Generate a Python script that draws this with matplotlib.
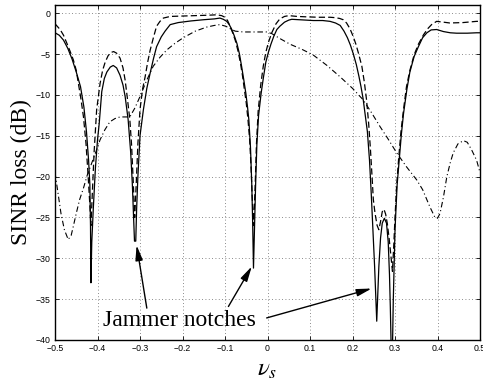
#!/usr/bin/env python3
"""
SINR loss vs normalized spatial frequency, with jammer notches marked
"""

import matplotlib
matplotlib.use('Agg')
import matplotlib.pyplot as plt

# solid curve
solid_x = [-0.500, -0.490, -0.480, -0.470, -0.460, -0.450, -0.440, -0.432, -0.426, -0.421,
           -0.418, -0.4165, -0.4155, -0.4135, -0.410, -0.405, -0.400, -0.396, -0.390, -0.384,
           -0.378, -0.370, -0.363, -0.355, -0.347, -0.340, -0.335, -0.328, -0.322, -0.318,
           -0.315, -0.313, -0.310, -0.308, -0.305, -0.300, -0.292, -0.284, -0.276, -0.268,
           -0.261, -0.250, -0.241, -0.229, -0.210, -0.180, -0.150, -0.125, -0.112, -0.104,
           -0.096, -0.090, -0.084, -0.078, -0.072, -0.066, -0.061, -0.056, -0.051, -0.047,
           -0.044, -0.040, -0.037, -0.035, -0.033, -0.031, -0.028, -0.025, -0.021, -0.015,
           -0.010, -0.004, 0.002, 0.008, 0.015, 0.022, 0.029, 0.040, 0.050, 0.057,
           0.075, 0.090, 0.108, 0.130, 0.147, 0.160, 0.171, 0.180, 0.188, 0.195,
           0.202, 0.209, 0.215, 0.220, 0.225, 0.230, 0.235, 0.240, 0.244, 0.248,
           0.252, 0.255, 0.257, 0.259, 0.262, 0.266, 0.270, 0.275, 0.280, 0.284,
           0.287, 0.289, 0.291, 0.2925, 0.294, 0.296, 0.300, 0.305, 0.310, 0.315,
           0.320, 0.328, 0.335, 0.345, 0.355, 0.365, 0.375, 0.385, 0.398, 0.414,
           0.430, 0.445, 0.470, 0.492, 0.500]
solid_y = [-2.4, -2.7, -3.3, -4.3, -5.6, -7.2, -9.0, -11.5, -14.5, -18.0,
           -21.0, -26.0, -33.0, -28.0, -24.0, -19.0, -15.5, -13.5, -9.6, -8.0,
           -7.2, -6.6, -6.4, -6.7, -7.6, -8.8, -10.2, -13.0, -17.0, -21.0,
           -25.0, -27.9, -27.9, -24.0, -20.0, -15.0, -11.8, -9.2, -7.3, -5.5,
           -4.1, -2.9, -2.2, -1.4, -1.15, -0.95, -0.8, -0.7, -0.6, -0.75,
           -1.0, -1.4, -2.0, -2.8, -3.7, -5.0, -6.5, -8.1, -9.8, -11.5,
           -13.0, -16.5, -21.0, -25.5, -31.2, -27.0, -21.0, -16.0, -12.5, -9.8,
           -8.0, -6.0, -4.8, -3.8, -2.8, -2.0, -1.6, -1.1, -0.85, -0.75,
           -0.8, -0.85, -0.9, -0.9, -1.0, -1.2, -1.5, -2.2, -3.0, -3.9,
           -5.0, -6.3, -7.7, -9.0, -10.5, -12.5, -14.5, -18.0, -22.0, -26.5,
           -31.0, -35.0, -37.7, -35.0, -31.0, -27.5, -25.7, -25.1, -25.7, -28.0,
           -32.0, -36.0, -41.0, -48.0, -41.0, -35.0, -26.5, -21.0, -17.9, -14.8,
           -12.3, -9.3, -7.2, -5.3, -4.1, -3.0, -2.4, -2.05, -2.0, -2.25,
           -2.4, -2.45, -2.45, -2.4, -2.4]

# dashed curve
dashed_x = [-0.500, -0.488, -0.480, -0.472, -0.465, -0.457, -0.450, -0.445, -0.439, -0.433,
            -0.427, -0.422, -0.418, -0.4155, -0.413, -0.408, -0.402, -0.394, -0.388, -0.382,
            -0.375, -0.368, -0.362, -0.355, -0.347, -0.340, -0.335, -0.330, -0.324, -0.320,
            -0.316, -0.3125, -0.309, -0.305, -0.300, -0.294, -0.288, -0.282, -0.276, -0.268,
            -0.261, -0.253, -0.245, -0.229, -0.200, -0.170, -0.140, -0.120, -0.108, -0.100,
            -0.094, -0.088, -0.082, -0.076, -0.070, -0.064, -0.059, -0.054, -0.050, -0.046,
            -0.042, -0.039, -0.036, -0.0325, -0.029, -0.026, -0.022, -0.016, -0.010, -0.004,
            0.002, 0.010, 0.020, 0.029, 0.040, 0.050, 0.070, 0.092, 0.120, 0.147,
            0.160, 0.170, 0.178, 0.186, 0.194, 0.202, 0.208, 0.214, 0.222, 0.228,
            0.233, 0.238, 0.242, 0.246, 0.249, 0.253, 0.258, 0.262, 0.266, 0.270,
            0.274, 0.278, 0.282, 0.286, 0.290, 0.294, 0.297, 0.300, 0.304, 0.309,
            0.314, 0.320, 0.327, 0.335, 0.345, 0.355, 0.367, 0.377, 0.386, 0.398,
            0.414, 0.429, 0.460, 0.492, 0.500]
dashed_y = [-1.3, -2.0, -2.7, -3.7, -4.6, -5.7, -7.0, -8.6, -10.5, -12.7,
            -16.0, -20.0, -23.5, -26.0, -23.0, -17.0, -11.8, -8.6, -7.0, -6.0,
            -5.2, -4.8, -4.7, -4.9, -5.5, -6.7, -8.2, -10.3, -13.0, -16.0,
            -20.5, -25.0, -21.0, -16.0, -11.8, -9.3, -7.8, -6.0, -4.5, -2.9,
            -1.6, -1.0, -0.6, -0.4, -0.35, -0.3, -0.25, -0.2, -0.3, -0.5,
            -0.9, -1.6, -2.4, -3.3, -4.5, -6.0, -7.6, -9.5, -11.0, -13.0,
            -15.5, -18.5, -22.5, -26.0, -21.0, -16.0, -12.0, -8.8, -6.5, -4.8,
            -3.6, -2.4, -1.3, -0.7, -0.4, -0.3, -0.4, -0.45, -0.5, -0.5,
            -0.55, -0.65, -0.8, -1.2, -1.9, -2.9, -3.8, -4.9, -6.5, -8.5,
            -10.6, -13.5, -16.5, -20.0, -22.8, -24.5, -26.0, -26.5, -25.5, -24.3,
            -24.0, -24.6, -25.8, -27.5, -29.5, -31.6, -28.5, -25.0, -21.0, -17.5,
            -14.5, -11.8, -9.0, -7.0, -5.1, -3.8, -2.65, -1.9, -1.4, -1.0,
            -1.1, -1.2, -1.15, -1.0, -1.0]

# dash-dot curve
dashdot_x = [-0.500, -0.493, -0.486, -0.478, -0.469, -0.462, -0.457, -0.450, -0.442, -0.433,
             -0.424, -0.414, -0.404, -0.394, -0.383, -0.371, -0.359, -0.347, -0.335, -0.324,
             -0.312, -0.300, -0.285, -0.269, -0.253, -0.237, -0.218, -0.198, -0.170, -0.143,
             -0.125, -0.112, -0.098, -0.088, -0.076, -0.057, -0.041, -0.020, -0.002, 0.010,
             0.029, 0.053, 0.080, 0.107, 0.140, 0.171, 0.200, 0.225, 0.245, 0.265,
             0.285, 0.304, 0.327, 0.351, 0.365, 0.382, 0.394, 0.400, 0.406, 0.414,
             0.422, 0.430, 0.437, 0.448, 0.461, 0.470, 0.480, 0.492, 0.500]
dashdot_y = [-19.5, -22.0, -24.5, -26.5, -27.7, -27.2, -26.1, -24.5, -22.8, -21.4,
             -19.8, -18.4, -17.0, -15.5, -14.3, -13.3, -12.9, -12.7, -12.7, -12.7,
             -11.6, -10.2, -8.3, -6.5, -5.4, -4.5, -3.7, -3.0, -2.2, -1.7,
             -1.5, -1.4, -1.6, -1.9, -2.2, -2.3, -2.3, -2.3, -2.3, -2.5,
             -3.1, -3.8, -4.4, -5.1, -6.4, -7.8, -9.2, -10.6, -12.2, -13.9,
             -15.5, -17.1, -18.8, -20.4, -21.6, -23.7, -25.0, -25.1, -24.5, -22.5,
             -20.0, -18.3, -17.1, -16.0, -15.6, -15.8, -16.7, -18.0, -19.5]

# ticks
x_ticks = [-0.5, -0.4, -0.3, -0.2, -0.1, 0.0, 0.1, 0.2, 0.3, 0.4, 0.5]
x_tick_labels = ['\u22120.5', '\u22120.4', '\u22120.3', '\u22120.2', '\u22120.1', '0',
                 '0.1', '0.2', '0.3', '0.4', '0.5']
y_ticks = [-40, -35, -30, -25, -20, -15, -10, -5, 0]
y_tick_labels = ['\u221240', '\u221235', '\u221230', '\u221225', '\u221220', '\u221215',
                 '\u221210', '\u22125', '0']

# annotation: text anchor and arrows (tail -> tip)
note_text = 'Jammer notches'
note_pos = (-0.387, -38.3)
arrow_tails = [(-0.284, -36.1), (-0.092, -35.9), (-0.002, -37.3)]
arrow_tips = [(-0.308, -28.4), (-0.037, -31.0), (0.245, -33.7)]


def create_plot(output_file='out.png'):
    plt.rcParams['mathtext.fontset'] = 'stix'
    fig = plt.figure(figsize=(4.83, 3.85), dpi=100)
    ax = fig.add_axes([0.1139, 0.1169, 0.8799, 0.8701])

    ax.plot(solid_x, solid_y, color='k', linewidth=0.9, linestyle='-')
    ax.plot(dashed_x, dashed_y, color='k', linewidth=0.9, linestyle=(0, (5, 2.5)))
    ax.plot(dashdot_x, dashdot_y, color='k', linewidth=0.8, linestyle=(0, (5, 2.5, 1, 2.5)))

    ax.set_xlim(-0.5, 0.5)
    ax.set_ylim(-40, 1)
    ax.set_xticks(x_ticks)
    ax.set_xticklabels(x_tick_labels, family='Liberation Sans', fontsize=6.3)
    ax.set_yticks(y_ticks)
    ax.set_yticklabels(y_tick_labels, family='Liberation Sans', fontsize=6.3)
    ax.tick_params(direction='in', top=True, right=True, length=3, width=0.6, pad=3)

    ax.grid(True, color='0.4', linestyle=(0, (1, 3)), linewidth=0.6)
    for sp in ax.spines.values():
        sp.set_linewidth(1.0)

    ax.set_ylabel('SINR loss (dB)', family='Liberation Serif', fontsize=17, labelpad=3)
    ax.set_xlabel(r'$\nu_s$', fontsize=18, labelpad=3)

    # jammer notch annotation
    ax.text(note_pos[0], note_pos[1], note_text, family='Liberation Serif',
            fontsize=17, ha='left', va='baseline')
    for tail, tip in zip(arrow_tails, arrow_tips):
        ax.annotate('', xy=tip, xytext=tail,
                    arrowprops=dict(arrowstyle='-|>,head_length=0.9,head_width=0.22',
                                    color='k', lw=1.0, shrinkA=0, shrinkB=0))

    fig.savefig(output_file, dpi=100)
    plt.close(fig)
    return output_file


if __name__ == '__main__':
    create_plot()
